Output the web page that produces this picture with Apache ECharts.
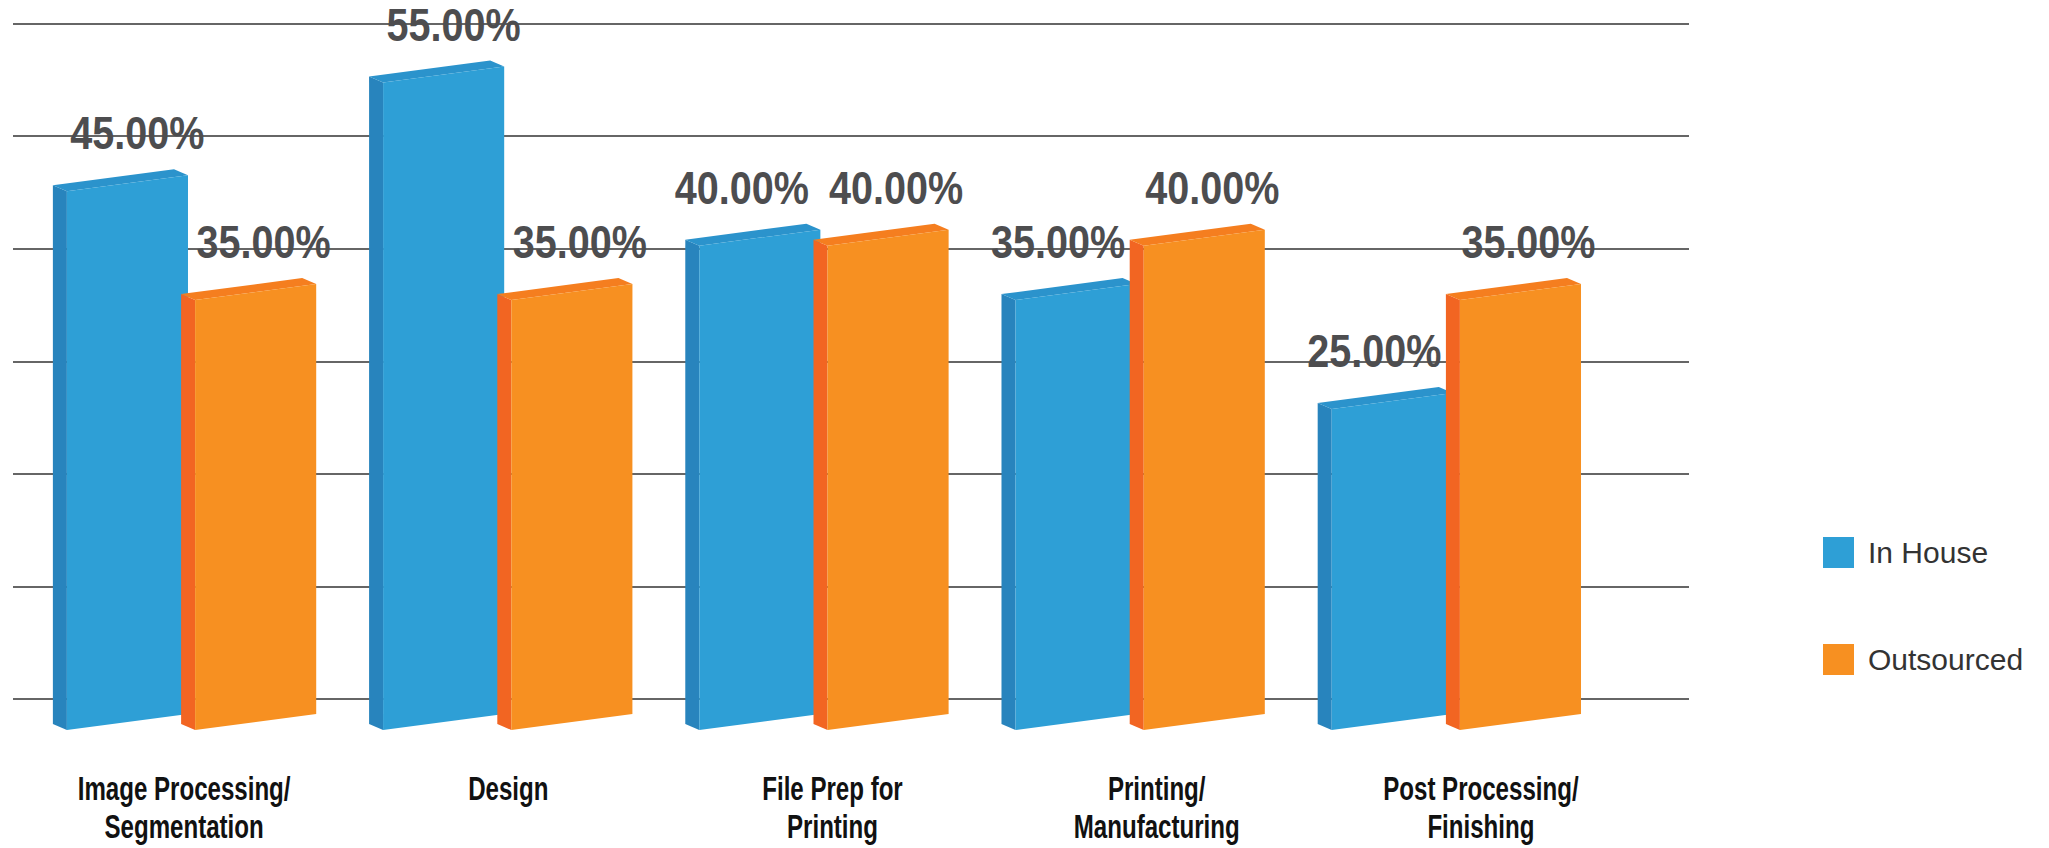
<!DOCTYPE html>
<html>
<head>
<meta charset="utf-8">
<style>html,body{margin:0;padding:0;background:#fff;}#chart{width:2049px;height:848px;}</style>
<script src="https://cdn.jsdelivr.net/npm/echarts@6/dist/echarts.min.js"></script>
</head>
<body>
<div id="chart"></div>
<script>
var categories = ['Image Processing/\nSegmentation', 'Design', 'File Prep for\nPrinting', 'Printing/\nManufacturing', 'Post Processing/\nFinishing'];
var inHouse = [45, 55, 40, 35, 25];
var outsourced = [35, 35, 40, 40, 35];
var seriesNames = ['In House', 'Outsourced'];

var FONT = '"Liberation Sans", Arial, sans-serif';
var BAR_Y_MIN = -4.5;
var palettes = [
  {front: '#2e9fd6', side: '#2884bd', top: '#2b93cc'},
  {front: '#f79021', side: '#f26522', top: '#f57e1f'}
];

function makeRender(idx) {
  var pal = palettes[idx];
  return function (params, api) {
    var i = params.dataIndex;
    var cat = api.value(0), v = api.value(1);
    var c = api.coord([cat, v]);
    var base = api.coord([cat, BAR_Y_MIN]);
    var bw = api.size([1, 0])[0];
    var fw = 0.383 * bw;
    var left = c[0] + (idx === 0 ? -0.396 : 0.0095) * bw;
    var right = left + fw;
    var slant = 16, dx = -14, dy = -6;
    var yT = c[1], yB = base[1];
    // blue labels move left when the neighbouring orange bar is as tall or taller
    var shift = idx === 0 ? (outsourced[i] >= inHouse[i] ? -18 : 10) : 8;
    return {
      type: 'group',
      children: [
        {type: 'polygon', shape: {points: [[left + dx, yT + dy], [left, yT], [left, yB], [left + dx, yB + dy]]}, style: {fill: pal.side}},
        {type: 'polygon', shape: {points: [[left + dx, yT + dy], [right + dx, yT - slant + dy], [right, yT - slant], [left, yT]]}, style: {fill: pal.top}},
        {type: 'polygon', shape: {points: [[left, yT], [right, yT - slant], [right, yB - slant], [left, yB]]}, style: {fill: pal.front}},
        {type: 'text', z2: 100, x: (left + right) / 2 + shift, y: yT - 35, scaleX: 0.86,
         style: {text: v.toFixed(2) + '%', fill: '#4d4d4f', font: 'bold 46px ' + FONT, align: 'center', verticalAlign: 'bottom'}}
      ]
    };
  };
}

function renderCategoryLabel(params, api) {
  var p = api.coord([api.value(0), BAR_Y_MIN]);
  return {
    type: 'text', x: p[0], y: p[1] + 40, scaleX: 0.73,
    style: {text: categories[params.dataIndex], fill: '#111', font: 'bold 33px ' + FONT,
            lineHeight: 38, align: 'center', verticalAlign: 'top'}
  };
}

function toData(arr) { return arr.map(function (v, i) { return [i, v]; }); }

var chart = echarts.init(document.getElementById('chart'), null, {renderer: 'svg'});
chart.setOption({
  animation: false,
  backgroundColor: '#fff',
  grid: [
    {left: 13, right: 360, top: 23.5, bottom: 149},
    {left: 34, right: 434, top: 28, bottom: 118},
    {left: 22, right: 406, top: 28, bottom: 118}
  ],
  xAxis: [
    {gridIndex: 0, type: 'value', min: 0, max: 1, show: false},
    {gridIndex: 1, type: 'category', data: categories,
     axisLine: {show: false}, axisTick: {show: false}, splitLine: {show: false}, axisLabel: {show: false}},
    {gridIndex: 2, type: 'category', data: categories, show: false}
  ],
  yAxis: [
    {gridIndex: 0, type: 'value', min: 0, max: 60, interval: 10,
     axisLine: {show: false}, axisTick: {show: false}, axisLabel: {show: false},
     splitLine: {show: true, lineStyle: {color: '#666666', width: 2.2}}},
    {gridIndex: 1, type: 'value', min: BAR_Y_MIN, max: 60, show: false, splitLine: {show: false}},
    {gridIndex: 2, type: 'value', min: BAR_Y_MIN, max: 60, show: false, splitLine: {show: false}}
  ],
  legend: {
    orient: 'vertical', left: 1818, top: 532, itemWidth: 31, itemHeight: 31, itemGap: 76,
    icon: 'rect', data: seriesNames,
    textStyle: {fontFamily: FONT, fontSize: 30, color: '#333', padding: [0, 0, 0, 9]}
  },
  series: [
    {name: seriesNames[0], type: 'custom', xAxisIndex: 1, yAxisIndex: 1, itemStyle: {color: palettes[0].front},
     renderItem: makeRender(0), encode: {x: 0, y: 1}, data: toData(inHouse), clip: false},
    {name: seriesNames[1], type: 'custom', xAxisIndex: 1, yAxisIndex: 1, itemStyle: {color: palettes[1].front},
     renderItem: makeRender(1), encode: {x: 0, y: 1}, data: toData(outsourced), clip: false},
    {name: 'categoryLabels', type: 'custom', xAxisIndex: 2, yAxisIndex: 2, silent: true,
     renderItem: renderCategoryLabel, encode: {x: 0, y: 1},
     data: categories.map(function (c, i) { return [i, BAR_Y_MIN]; }), clip: false}
  ]
});
</script>
</body>
</html>
